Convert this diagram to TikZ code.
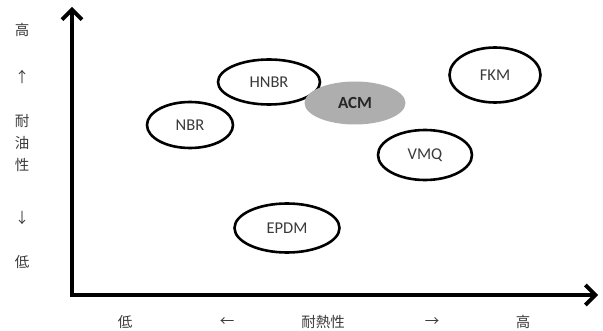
\documentclass[tikz,border=0pt]{standalone}
\usepackage{fontspec}
\setmainfont{Carlito}
\newfontfamily\cjk{Noto Sans CJK JP}
\usetikzlibrary{shapes.geometric,arrows.meta}
\definecolor{txt}{HTML}{3A3A3A}
\definecolor{acmfill}{HTML}{AEAEAE}
\begin{document}
\begin{tikzpicture}[x=1pt,y=-1pt,
  ell/.style={ellipse,draw=black,line width=2.6pt,fill=white,inner sep=0pt,text=txt,font=\fontsize{16.5}{16.5}\selectfont},
  axis/.style={line width=3.8pt,-{Straight Barb[length=10pt,width=20pt]}},
  lab/.style={text=txt,font=\cjk\fontsize{14.5}{14.5}\selectfont,inner sep=0pt}]
\useasboundingbox (0,0) rectangle (603,331);
\coordinate (o) at (72,295);
\coordinate (ytop) at (72,7);
\coordinate (xend) at (598,295);
\draw[axis,line cap=rect] (o) -- (ytop);
\draw[axis] (o) -- (xend);
\node[lab] (y1) at (22,30) {高};
\node[lab] (y2) at (22,77) {↑};
\node[lab] (y3) at (22,121) {耐};
\node[lab] (y4) at (22,143) {油};
\node[lab] (y5) at (22,165) {性};
\node[lab] (y6) at (22,218) {↓};
\node[lab] (y7) at (22,262) {低};
\node[lab] (x1) at (125,322) {低};
\node[lab] (x2) at (227,322) {←};
\node[lab] (x3) at (323,322) {耐熱性};
\node[lab] (x4) at (432,322) {→};
\node[lab] (x5) at (523,322) {高};
\node[ell,minimum width=102pt,minimum height=45pt] (hnbr) at (269,82) {HNBR};
\node[ellipse,fill=acmfill,inner sep=0pt,minimum width=101pt,minimum height=43pt,font=\bfseries\fontsize{17}{17}\selectfont,text=black!85] (acm) at (355,103) {ACM};
\node[ell,minimum width=86pt,minimum height=46pt] (nbr) at (190,125) {NBR};
\node[ell,minimum width=105pt,minimum height=49pt] (epdm) at (287,228) {EPDM};
\node[ell,minimum width=91pt,minimum height=55pt] (fkm) at (495,75) {FKM};
\node[ell,minimum width=94pt,minimum height=50pt] (vmq) at (425,155) {VMQ};
\end{tikzpicture}
\end{document}
